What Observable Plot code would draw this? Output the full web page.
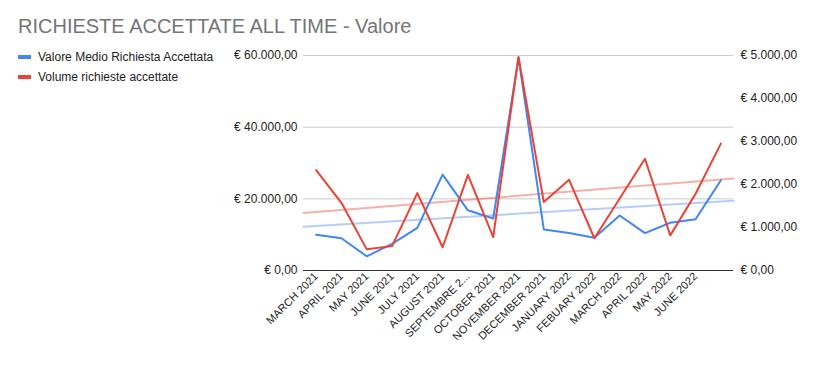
<!DOCTYPE html>
<html>
<head>
<meta charset="utf-8">
<script src="https://cdn.jsdelivr.net/npm/d3@7"></script>
<script src="https://cdn.jsdelivr.net/npm/@observablehq/plot@0.6"></script>
<style>
  html, body { margin: 0; padding: 0; background: #fff; }
  body { width: 814px; height: 369px; position: relative; overflow: hidden; font-family: "Liberation Sans", Arial, sans-serif; }
  #title { position: absolute; left: 18px; top: 15px; font-size: 20px; color: #757575; white-space: nowrap; }
  .leg { position: absolute; left: 18px; font-size: 12px; color: #222; white-space: nowrap; display: flex; align-items: center; }
  .sw { width: 13px; height: 4px; margin-right: 7px; }
  #chart { position: absolute; left: 0; top: 0; }
</style>
</head>
<body>
<div id="title">RICHIESTE ACCETTATE ALL TIME - Valore</div>
<div class="leg" style="top:50px"><div class="sw" style="background:#4285F4"></div>Valore Medio Richiesta Accettata</div>
<div class="leg" style="top:70px"><div class="sw" style="background:#EA4335"></div>Volume richieste accettate</div>
<div id="chart"></div>
<script>
// tick labels (16 labelled categories; the 17th point has no label in the reference)
const labels = ["MARCH 2021","APRIL 2021","MAY 2021","JUNE 2021","JULY 2021","AUGUST 2021","SEPTEMBRE 2...","OCTOBER 2021","NOVEMBER 2021","DECEMBER 2021","JANUARY 2022","FEBUARY 2022","MARCH 2022","APRIL 2022","MAY 2022","JUNE 2022"];
// Valore Medio Richiesta Accettata (right axis, €)
const valoreMedio = [830,750,330,620,990,2230,1400,1210,4950,955,870,760,1280,870,1110,1190,2100];
// Volume richieste accettate (left axis, €)
const volume = [28000,18900,5900,6800,21600,6500,26700,9300,59600,19100,25300,9000,20100,31200,9800,21400,35400];
const leftTicks = [0,20000,40000,60000];
const rightTicks = [0,1000,2000,3000,4000,5000];

const ratio = 60000 / 5000;
const loc = d3.formatLocale({decimal: ",", thousands: ".", grouping: [3], currency: ["€ ", ""]});
const fmt = loc.format("$,.2f");

const data = volume.map((v, i) => ({i, volume: v, valore: valoreMedio[i]}));

function regress(vals) {
  const n = vals.length;
  const xm = d3.mean(vals, (_, i) => i);
  const ym = d3.mean(vals);
  let sxy = 0, sxx = 0;
  vals.forEach((y, i) => { sxy += (i - xm) * (y - ym); sxx += (i - xm) ** 2; });
  const b = sxy / sxx, a = ym - b * xm;
  const x0 = -0.5, x1 = n - 0.5;
  return [{x: x0, y: a + b * x0}, {x: x1, y: a + b * x1}];
}
const trendVol = regress(volume);
const trendVal = regress(valoreMedio).map(d => ({x: d.x, y: d.y * ratio}));

const n = volume.length;
const chart = Plot.plot({
  width: 814,
  height: 369,
  marginLeft: 303,
  marginRight: 81,
  marginTop: 55,
  marginBottom: 99,
  style: {fontFamily: "Liberation Sans, Arial, sans-serif", fontSize: "12px", color: "#222", background: "transparent"},
  x: {type: "linear", domain: [-0.5, n - 0.5]},
  y: {domain: [0, 60000]},
  marks: [
    Plot.ruleY(leftTicks.slice(1), {stroke: "#cccccc", strokeWidth: 1}),
    Plot.axisY({anchor: "left", ticks: leftTicks, tickSize: 0, tickPadding: 6, tickFormat: fmt, fontSize: 12}),
    Plot.axisY({anchor: "right", ticks: rightTicks.map(t => t * ratio), tickSize: 0, tickPadding: 7, tickFormat: d => fmt(d / ratio), fontSize: 12}),
    Plot.axisX({ticks: d3.range(labels.length), tickFormat: i => labels[i], tickSize: 0, tickRotate: -45, tickPadding: 4, fontSize: 11}),
    Plot.line(trendVol, {x: "x", y: "y", stroke: "#EA4335", strokeOpacity: 0.42, strokeWidth: 2}),
    Plot.line(trendVal, {x: "x", y: "y", stroke: "#4285F4", strokeOpacity: 0.4, strokeWidth: 2}),
    Plot.ruleY([0], {stroke: "#333333", strokeWidth: 1}),
    Plot.line(data, {x: "i", y: d => d.valore * ratio, stroke: "#4285F4", strokeWidth: 2}),
    Plot.line(data, {x: "i", y: "volume", stroke: "#EA4335", strokeWidth: 2})
  ]
});
document.getElementById("chart").appendChild(chart);
</script>
</body>
</html>
